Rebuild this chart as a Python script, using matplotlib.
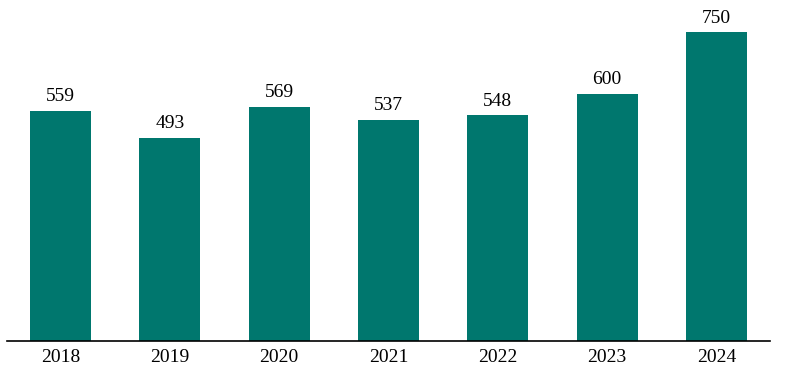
import numpy as np
from matplotlib import pyplot as plt

YEARS = ["2018", "2019", "2020", "2021", "2022", "2023", "2024"]
VALUES = [559, 493, 569, 537, 548, 600, 750]

BAR_COLOR = "#00776E"

plt.rcParams["font.family"] = ["Liberation Serif", "DejaVu Serif"]

fig = plt.figure(figsize=(7.9, 3.81), dpi=100)
ax = fig.add_axes([7 / 790, 40 / 381, 763 / 790, 341 / 381])

x = np.arange(len(YEARS))
bars = ax.bar(x, VALUES, width=0.56, color=BAR_COLOR)

for xi, v in zip(x, VALUES):
    ax.annotate(str(v), (xi, v), xytext=(0, 4), textcoords="offset points",
                ha="center", va="bottom", fontsize=14)

ax.set_xlim(-0.49, 6.49)
ax.set_ylim(0, 828)
ax.set_xticks(x)
ax.set_xticklabels(YEARS, fontsize=14)
ax.tick_params(axis="x", length=0, pad=6)
ax.set_yticks([])
for side in ["top", "left", "right"]:
    ax.spines[side].set_visible(False)
ax.spines["bottom"].set_linewidth(1.2)

fig.savefig("out.png", dpi=100)
